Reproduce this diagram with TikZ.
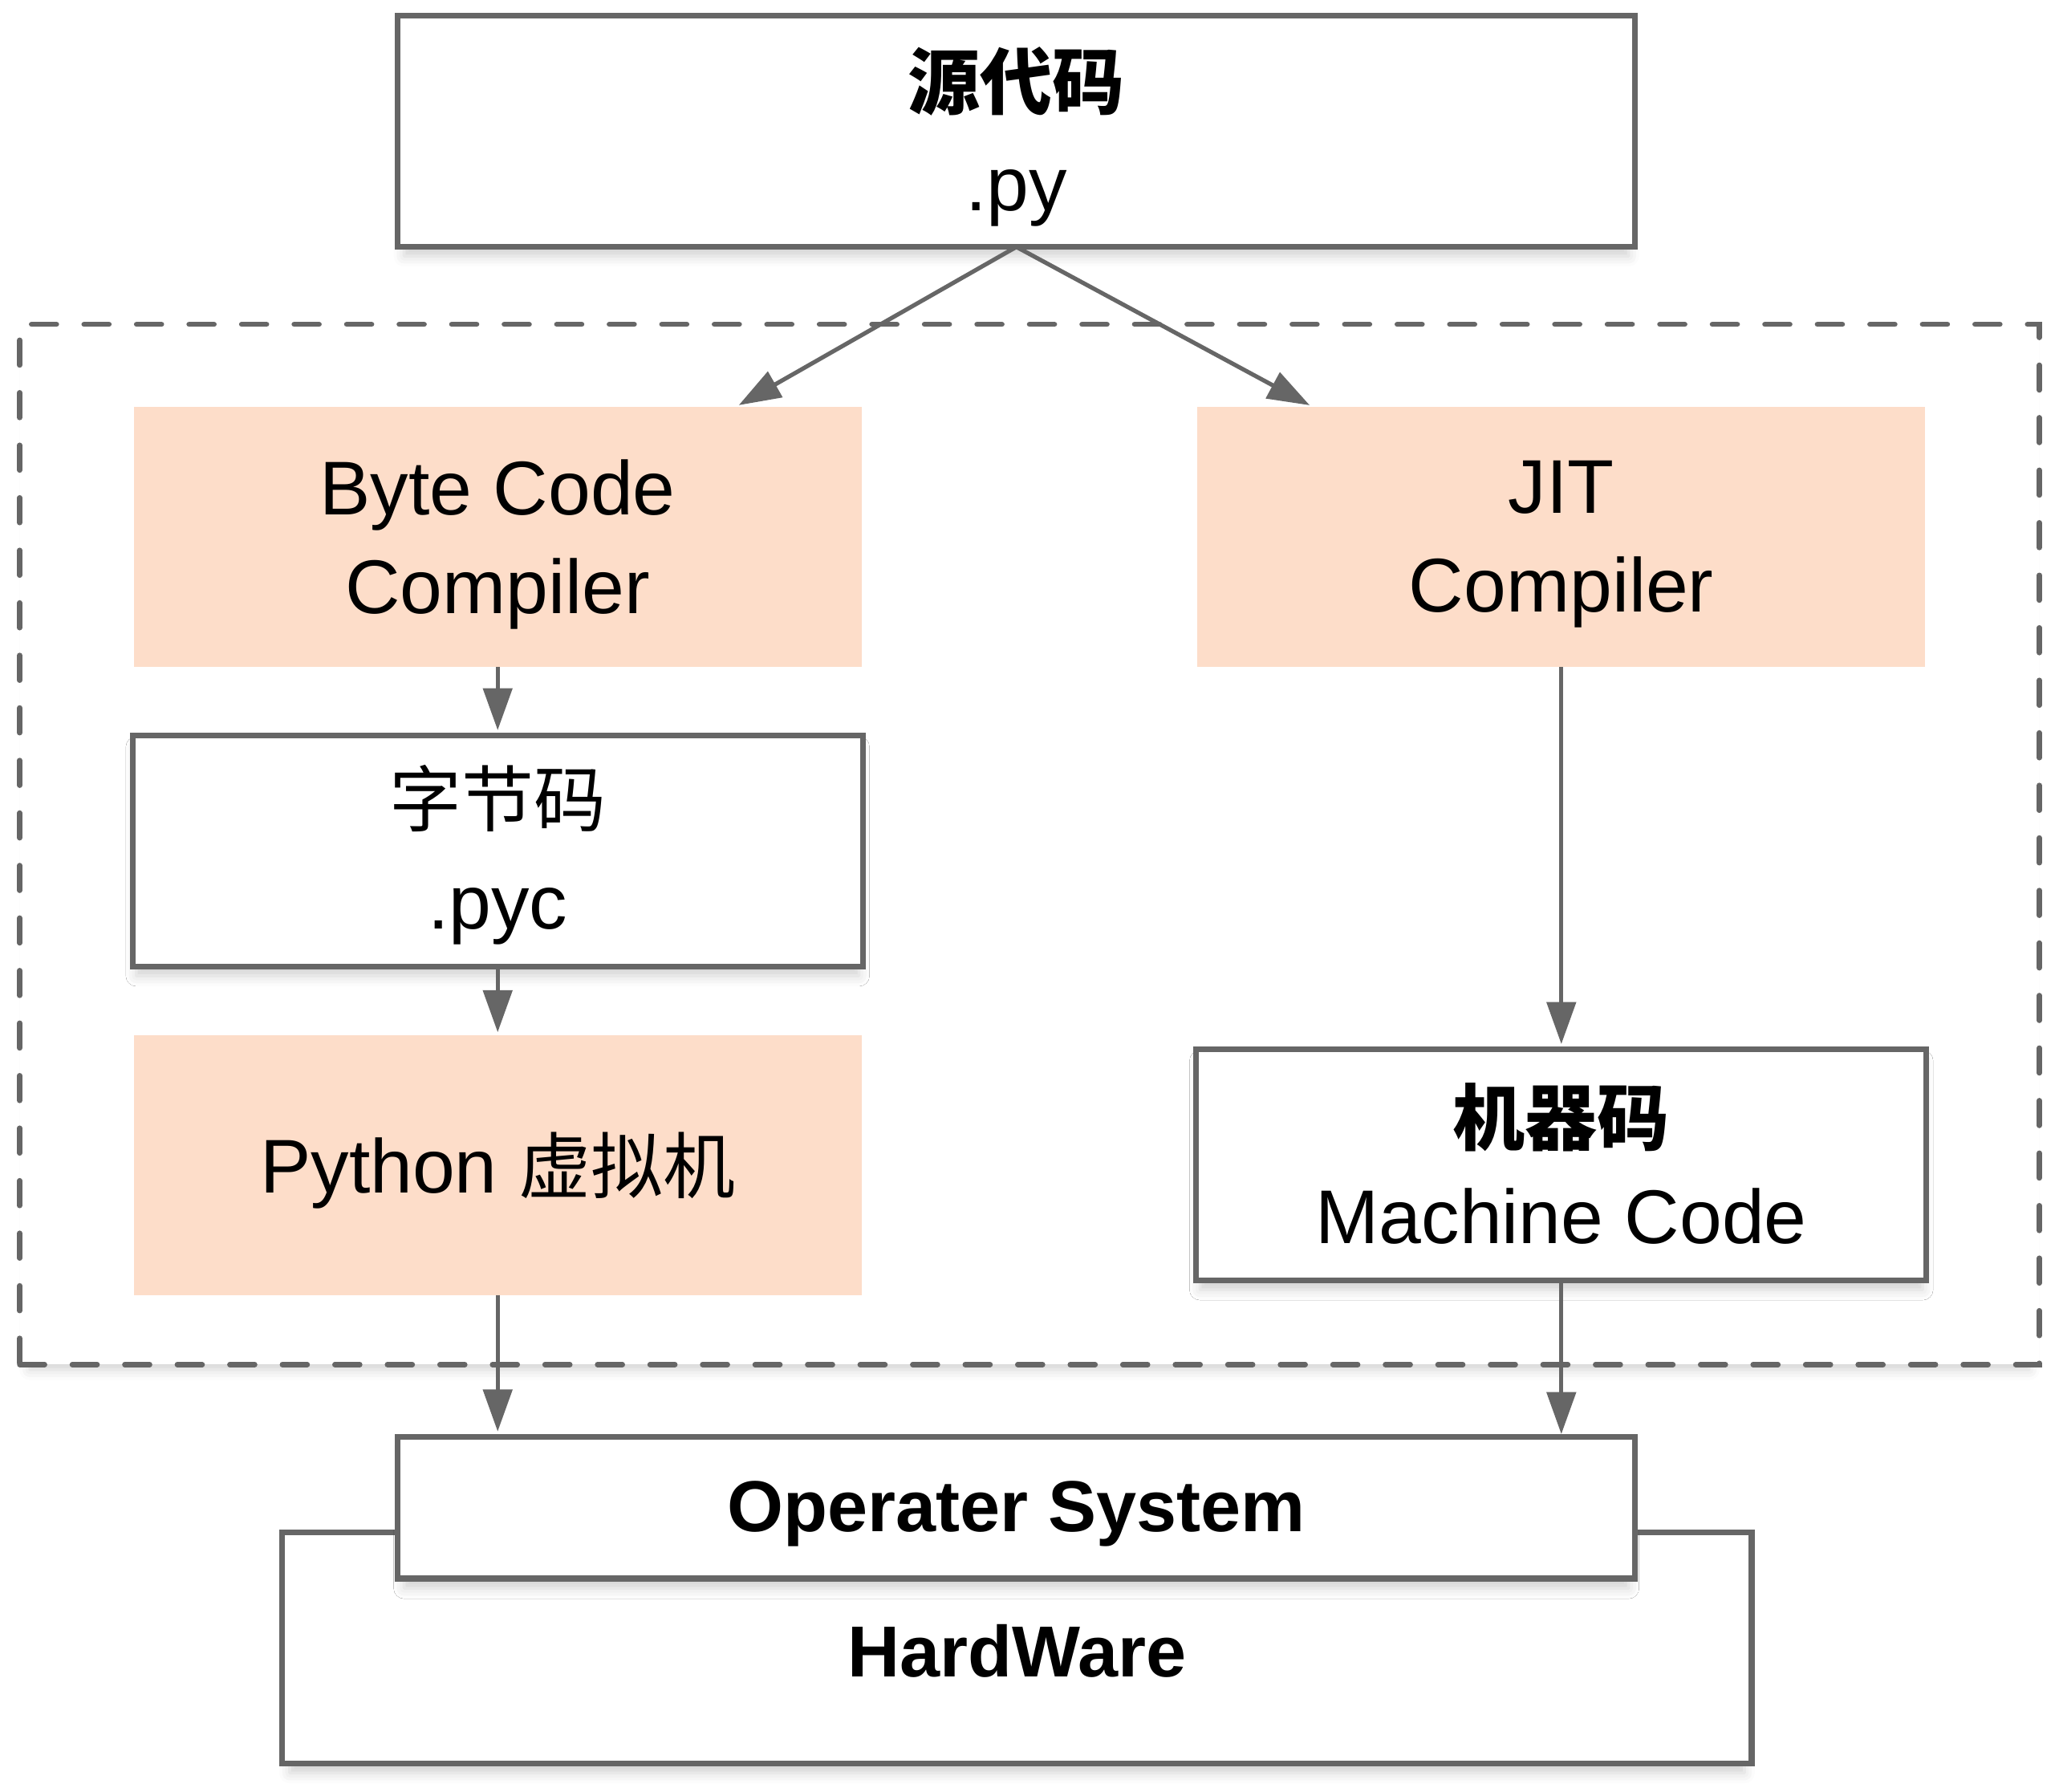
\documentclass[tikz,border=0pt]{standalone}
\usepackage{fontspec}
\setmainfont{Liberation Sans}
\newfontfamily\cjk{Noto Sans CJK SC}
\usetikzlibrary{arrows.meta,shadows.blur}
\definecolor{edge}{HTML}{666666}
\definecolor{peach}{RGB}{253,221,201}
\begin{document}
\begin{tikzpicture}[x=0.5pt,y=-0.5pt,
  every node/.style={inner sep=0pt, outer sep=0pt},
  softshadow/.style={blur shadow={shadow xshift=0pt, shadow yshift=-4pt, shadow scale=0.99, shadow blur radius=4pt, shadow opacity=18}},
  whitebox/.style={draw=edge, line width=2.2pt, fill=white, softshadow},
  peachbox/.style={fill=peach},
  groupbox/.style={draw=edge, line width=2pt, fill=white, dash pattern=on 9.5pt off 10.5pt, line cap=round, softshadow},
  label text/.style={align=center},
  link/.style={draw=edge, line width=1.6pt, -{Triangle[length=16pt,width=11pt]}},
]
\useasboundingbox (0,0) rectangle (1568,1364.5);

% dashed group
\node[groupbox, minimum width=769pt, minimum height=396pt] (group) at (784,643) {};

% hardware and OS
\node[whitebox, minimum width=559.5pt, minimum height=88pt] (hw) at (774.5,1255) {};
\node[label text, font=\fontsize{27.5}{38}\selectfont\bfseries] (hwt) at ([yshift=-1pt]hw.center) {HardWare};
\node[whitebox, minimum width=471pt, minimum height=54pt] (os) at (774,1148) {};
\node[label text, font=\fontsize{27.5}{38}\selectfont\bfseries] (ost) at ([yshift=-2.5pt]os.center) {Operater System};

% source
\node[whitebox, minimum width=471pt, minimum height=88pt] (src) at (774,100) {};
\node[label text, font=\fontsize{29}{39}\selectfont] (srct) at ([yshift=-2pt]src.center) {{\fontsize{27.5}{39}\selectfont\cjk\bfseries 源代码}\\.py};

% compilers
\node[peachbox, minimum width=277pt, minimum height=99pt] (bcc) at (379,409) {};
\node[label text, font=\fontsize{29}{37.5}\selectfont] (bcct) at ([yshift=-2.7pt]bcc.center) {Byte Code\\Compiler};
\node[peachbox, minimum width=277pt, minimum height=99pt] (jit) at (1189,409) {};
\node[label text, font=\fontsize{29}{37.5}\selectfont] (jitt) at ([yshift=-2.7pt]jit.center) {JIT\\Compiler};

% bytecode
\node[whitebox, minimum width=278pt, minimum height=88pt] (pyc) at (379,648) {};
\node[label text, font=\fontsize{29}{39}\selectfont] (pyct) at ([yshift=-1.5pt]pyc.center) {{\fontsize{27.5}{39}\selectfont\cjk 字节码}\\.pyc};

% python vm
\node[peachbox, minimum width=277pt, minimum height=99pt] (pvm) at (379,887) {};
\node[label text, font=\fontsize{29}{38}\selectfont] (pvmt) at ([yshift=-2pt]pvm.center) {Python {\fontsize{27.5}{38}\selectfont\cjk 虚拟机}};

% machine code
\node[whitebox, minimum width=278pt, minimum height=88pt] (mc) at (1189,887) {};
\node[label text, font=\fontsize{29}{37.5}\selectfont] (mct) at ([yshift=0.5pt]mc.center) {{\fontsize{27.5}{37.5}\selectfont\cjk\bfseries 机器码}\\Machine Code};

% connectors
\coordinate (bccin) at ([xshift=90.5pt]bcc.north);
\coordinate (jitin) at ([xshift=-94.5pt]jit.north);
\draw[link, shorten >=1.5pt] (src.south) -- (bccin);
\draw[link, shorten >=1.5pt] (src.south) -- (jitin);
\draw[link, shorten >=2pt] (bcc.south) -- (pyc.north);
\draw[link, shorten >=1pt] (pyc.south) -- (pvm.north);
\draw[link, shorten >=2pt] (jit.south) -- (mc.north);
\draw[link, shorten >=2pt] (pvm.south) -- (pvm.south |- os.north);
\draw[link, shorten >=1pt] (mc.south) -- (mc.south |- os.north);
\end{tikzpicture}
\end{document}
